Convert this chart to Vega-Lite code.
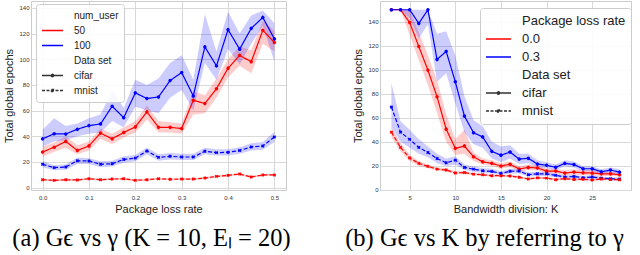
{
  "$schema": "https://vega.github.io/schema/vega-lite/v6.json",
  "padding": {"left": 3, "top": 0, "right": 0, "bottom": 0},
  "background": "white",
  "bounds": "flush",
  "spacing": 94,
  "resolve": {"scale": {"color": "independent", "x": "independent", "y": "independent", "strokeDash": "independent", "shape": "independent"}, "legend": {"color": "independent"}},
  "config": {
    "font": "Liberation Sans",
    "view": {"stroke": "#cccccc", "strokeWidth": 1},
    "axis": {"grid": true, "gridColor": "#d9d9d9", "gridWidth": 1.1, "domain": false, "ticks": false, "labelOverlap": false, "labelFontSize": 6, "labelColor": "#333333", "labelPadding": 3, "titleFontSize": 11, "titleFontWeight": "normal", "titleColor": "#222222", "titleFont": "Liberation Sans", "labelFont": "Liberation Sans"},
    "title": {"font": "Liberation Serif", "fontSize": 24.5, "fontWeight": "normal", "color": "#000000"}
  },
  "datasets": {
    "a": [
      {"x":0,"g":"50","d":"cifar","y":27.8,"lo":24,"hi":32},
      {"x":0.025,"g":"50","d":"cifar","y":31.5,"lo":28,"hi":35},
      {"x":0.05,"g":"50","d":"cifar","y":36,"lo":31,"hi":40},
      {"x":0.075,"g":"50","d":"cifar","y":29,"lo":26,"hi":33},
      {"x":0.1,"g":"50","d":"cifar","y":32.5,"lo":29,"hi":36},
      {"x":0.125,"g":"50","d":"cifar","y":42.5,"lo":38,"hi":46},
      {"x":0.15,"g":"50","d":"cifar","y":38,"lo":34,"hi":42},
      {"x":0.175,"g":"50","d":"cifar","y":43,"lo":39,"hi":47},
      {"x":0.2,"g":"50","d":"cifar","y":47.3,"lo":43,"hi":52},
      {"x":0.225,"g":"50","d":"cifar","y":59,"lo":53,"hi":64},
      {"x":0.25,"g":"50","d":"cifar","y":47,"lo":43,"hi":52},
      {"x":0.275,"g":"50","d":"cifar","y":47,"lo":43,"hi":51},
      {"x":0.3,"g":"50","d":"cifar","y":46,"lo":42,"hi":50},
      {"x":0.325,"g":"50","d":"cifar","y":68,"lo":57,"hi":75},
      {"x":0.35,"g":"50","d":"cifar","y":65.5,"lo":58,"hi":72},
      {"x":0.375,"g":"50","d":"cifar","y":77,"lo":70,"hi":85},
      {"x":0.4,"g":"50","d":"cifar","y":93,"lo":86,"hi":100},
      {"x":0.425,"g":"50","d":"cifar","y":103,"lo":95,"hi":110},
      {"x":0.45,"g":"50","d":"cifar","y":98,"lo":89,"hi":107},
      {"x":0.475,"g":"50","d":"cifar","y":122.5,"lo":112,"hi":130},
      {"x":0.5,"g":"50","d":"cifar","y":113,"lo":106,"hi":122},
      {"x":0,"g":"100","d":"cifar","y":38,"lo":32,"hi":45},
      {"x":0.025,"g":"100","d":"cifar","y":42,"lo":36,"hi":54},
      {"x":0.05,"g":"100","d":"cifar","y":41.8,"lo":37,"hi":48},
      {"x":0.075,"g":"100","d":"cifar","y":45.5,"lo":40,"hi":50},
      {"x":0.1,"g":"100","d":"cifar","y":48.3,"lo":42,"hi":54},
      {"x":0.125,"g":"100","d":"cifar","y":49.6,"lo":43,"hi":57},
      {"x":0.15,"g":"100","d":"cifar","y":63.4,"lo":52,"hi":76},
      {"x":0.175,"g":"100","d":"cifar","y":54.5,"lo":47,"hi":62},
      {"x":0.2,"g":"100","d":"cifar","y":73.8,"lo":63,"hi":84},
      {"x":0.225,"g":"100","d":"cifar","y":69.4,"lo":60,"hi":80},
      {"x":0.25,"g":"100","d":"cifar","y":70.6,"lo":58,"hi":85},
      {"x":0.275,"g":"100","d":"cifar","y":83.4,"lo":70,"hi":97},
      {"x":0.3,"g":"100","d":"cifar","y":89.6,"lo":76,"hi":103},
      {"x":0.325,"g":"100","d":"cifar","y":71.4,"lo":60,"hi":84},
      {"x":0.35,"g":"100","d":"cifar","y":109.6,"lo":97,"hi":135},
      {"x":0.375,"g":"100","d":"cifar","y":94.8,"lo":84,"hi":106},
      {"x":0.4,"g":"100","d":"cifar","y":123,"lo":108,"hi":137},
      {"x":0.425,"g":"100","d":"cifar","y":107.8,"lo":96,"hi":120},
      {"x":0.45,"g":"100","d":"cifar","y":124,"lo":112,"hi":134},
      {"x":0.475,"g":"100","d":"cifar","y":132.5,"lo":126,"hi":138},
      {"x":0.5,"g":"100","d":"cifar","y":115.8,"lo":98,"hi":128},
      {"x":0,"g":"100","d":"mnist","y":18.2,"lo":16,"hi":20.5},
      {"x":0.025,"g":"100","d":"mnist","y":15.6,"lo":13.5,"hi":17.5},
      {"x":0.05,"g":"100","d":"mnist","y":16.1,"lo":14,"hi":18},
      {"x":0.075,"g":"100","d":"mnist","y":21,"lo":18.5,"hi":23.5},
      {"x":0.1,"g":"100","d":"mnist","y":20.8,"lo":18.5,"hi":23},
      {"x":0.125,"g":"100","d":"mnist","y":18.2,"lo":16,"hi":20.5},
      {"x":0.15,"g":"100","d":"mnist","y":18.7,"lo":16.5,"hi":21},
      {"x":0.175,"g":"100","d":"mnist","y":22,"lo":19.5,"hi":24.5},
      {"x":0.2,"g":"100","d":"mnist","y":23,"lo":20.5,"hi":25.5},
      {"x":0.225,"g":"100","d":"mnist","y":28.6,"lo":26,"hi":31},
      {"x":0.25,"g":"100","d":"mnist","y":23.6,"lo":21,"hi":26},
      {"x":0.275,"g":"100","d":"mnist","y":24.4,"lo":22,"hi":27},
      {"x":0.3,"g":"100","d":"mnist","y":23.9,"lo":21.5,"hi":26.5},
      {"x":0.325,"g":"100","d":"mnist","y":23.9,"lo":21.5,"hi":26.5},
      {"x":0.35,"g":"100","d":"mnist","y":28.3,"lo":26,"hi":31},
      {"x":0.375,"g":"100","d":"mnist","y":27.3,"lo":25,"hi":30},
      {"x":0.4,"g":"100","d":"mnist","y":27.5,"lo":25,"hi":30},
      {"x":0.425,"g":"100","d":"mnist","y":29,"lo":26.5,"hi":31.5},
      {"x":0.45,"g":"100","d":"mnist","y":31.7,"lo":29,"hi":34.5},
      {"x":0.475,"g":"100","d":"mnist","y":32.5,"lo":29.5,"hi":35.5},
      {"x":0.5,"g":"100","d":"mnist","y":39.5,"lo":35.5,"hi":43.5},
      {"x":0,"g":"50","d":"mnist","y":6.2,"lo":5.4,"hi":7},
      {"x":0.025,"g":"50","d":"mnist","y":5.7,"lo":4.9,"hi":6.5},
      {"x":0.05,"g":"50","d":"mnist","y":6.2,"lo":5.4,"hi":7},
      {"x":0.075,"g":"50","d":"mnist","y":6,"lo":5.2,"hi":6.8},
      {"x":0.1,"g":"50","d":"mnist","y":7,"lo":6.2,"hi":7.8},
      {"x":0.125,"g":"50","d":"mnist","y":6.2,"lo":5.4,"hi":7},
      {"x":0.15,"g":"50","d":"mnist","y":6.7,"lo":5.9,"hi":7.5},
      {"x":0.175,"g":"50","d":"mnist","y":7,"lo":6.2,"hi":7.8},
      {"x":0.2,"g":"50","d":"mnist","y":5.7,"lo":4.9,"hi":6.5},
      {"x":0.225,"g":"50","d":"mnist","y":6.2,"lo":5.4,"hi":7},
      {"x":0.25,"g":"50","d":"mnist","y":7,"lo":6.2,"hi":7.8},
      {"x":0.275,"g":"50","d":"mnist","y":6.5,"lo":5.7,"hi":7.3},
      {"x":0.3,"g":"50","d":"mnist","y":6.7,"lo":5.9,"hi":7.5},
      {"x":0.325,"g":"50","d":"mnist","y":6.7,"lo":5.9,"hi":7.5},
      {"x":0.35,"g":"50","d":"mnist","y":7.5,"lo":6.7,"hi":8.3},
      {"x":0.375,"g":"50","d":"mnist","y":8.8,"lo":8,"hi":9.6},
      {"x":0.4,"g":"50","d":"mnist","y":9.6,"lo":8.8,"hi":10.4},
      {"x":0.425,"g":"50","d":"mnist","y":10.6,"lo":9.8,"hi":11.4},
      {"x":0.45,"g":"50","d":"mnist","y":8.3,"lo":7.5,"hi":9.1},
      {"x":0.475,"g":"50","d":"mnist","y":9.9,"lo":9.1,"hi":10.7},
      {"x":0.5,"g":"50","d":"mnist","y":9.9,"lo":9.1,"hi":10.7}
    ],
    "b": [
      {"x":3,"g":"0.0","d":"cifar","y":150,"lo":150,"hi":150},
      {"x":4,"g":"0.0","d":"cifar","y":150,"lo":150,"hi":150},
      {"x":5,"g":"0.0","d":"cifar","y":139.4,"lo":129,"hi":150},
      {"x":6,"g":"0.0","d":"cifar","y":119.4,"lo":108,"hi":131},
      {"x":7,"g":"0.0","d":"cifar","y":99.7,"lo":87,"hi":112},
      {"x":8,"g":"0.0","d":"cifar","y":77.5,"lo":64,"hi":91},
      {"x":9,"g":"0.0","d":"cifar","y":50.5,"lo":40,"hi":63},
      {"x":10,"g":"0.0","d":"cifar","y":34.5,"lo":29,"hi":42},
      {"x":11,"g":"0.0","d":"cifar","y":36.5,"lo":30,"hi":50},
      {"x":12,"g":"0.0","d":"cifar","y":27.5,"lo":24,"hi":31},
      {"x":13,"g":"0.0","d":"cifar","y":23.3,"lo":21,"hi":26},
      {"x":14,"g":"0.0","d":"cifar","y":22,"lo":20,"hi":24.5},
      {"x":15,"g":"0.0","d":"cifar","y":19.8,"lo":17.5,"hi":22},
      {"x":16,"g":"0.0","d":"cifar","y":21.2,"lo":19,"hi":23.5},
      {"x":17,"g":"0.0","d":"cifar","y":17.3,"lo":15.5,"hi":19.5},
      {"x":18,"g":"0.0","d":"cifar","y":18.6,"lo":16.5,"hi":21},
      {"x":19,"g":"0.0","d":"cifar","y":18.2,"lo":16,"hi":20.5},
      {"x":20,"g":"0.0","d":"cifar","y":15.6,"lo":13.5,"hi":17.5},
      {"x":21,"g":"0.0","d":"cifar","y":15.6,"lo":13.5,"hi":17.5},
      {"x":22,"g":"0.0","d":"cifar","y":13.9,"lo":12,"hi":16},
      {"x":23,"g":"0.0","d":"cifar","y":14.7,"lo":12.5,"hi":17},
      {"x":24,"g":"0.0","d":"cifar","y":14.2,"lo":12,"hi":16.5},
      {"x":25,"g":"0.0","d":"cifar","y":13.9,"lo":12,"hi":16},
      {"x":26,"g":"0.0","d":"cifar","y":13.3,"lo":11.5,"hi":15},
      {"x":27,"g":"0.0","d":"cifar","y":13.3,"lo":11.5,"hi":15},
      {"x":28,"g":"0.0","d":"cifar","y":12.5,"lo":11,"hi":14.5},
      {"x":3,"g":"0.3","d":"cifar","y":150,"lo":150,"hi":150},
      {"x":4,"g":"0.3","d":"cifar","y":150,"lo":150,"hi":150},
      {"x":5,"g":"0.3","d":"cifar","y":150,"lo":143,"hi":150},
      {"x":6,"g":"0.3","d":"cifar","y":138.6,"lo":126,"hi":150},
      {"x":7,"g":"0.3","d":"cifar","y":150,"lo":138,"hi":150},
      {"x":8,"g":"0.3","d":"cifar","y":108.6,"lo":90,"hi":130},
      {"x":9,"g":"0.3","d":"cifar","y":115.3,"lo":97,"hi":132},
      {"x":10,"g":"0.3","d":"cifar","y":90,"lo":72,"hi":112},
      {"x":11,"g":"0.3","d":"cifar","y":61.4,"lo":48,"hi":78},
      {"x":12,"g":"0.3","d":"cifar","y":47.5,"lo":38,"hi":58},
      {"x":13,"g":"0.3","d":"cifar","y":44,"lo":35,"hi":53},
      {"x":14,"g":"0.3","d":"cifar","y":32,"lo":26,"hi":40},
      {"x":15,"g":"0.3","d":"cifar","y":28.8,"lo":23,"hi":36},
      {"x":16,"g":"0.3","d":"cifar","y":31.4,"lo":26,"hi":37},
      {"x":17,"g":"0.3","d":"cifar","y":25.6,"lo":21.5,"hi":30},
      {"x":18,"g":"0.3","d":"cifar","y":26.2,"lo":22,"hi":30},
      {"x":19,"g":"0.3","d":"cifar","y":21.4,"lo":19,"hi":24.5},
      {"x":20,"g":"0.3","d":"cifar","y":20.4,"lo":18,"hi":23},
      {"x":21,"g":"0.3","d":"cifar","y":18.7,"lo":16.5,"hi":21},
      {"x":22,"g":"0.3","d":"cifar","y":22,"lo":19.5,"hi":24.5},
      {"x":23,"g":"0.3","d":"cifar","y":21,"lo":18.5,"hi":23.5},
      {"x":24,"g":"0.3","d":"cifar","y":17.5,"lo":15.5,"hi":19.5},
      {"x":25,"g":"0.3","d":"cifar","y":17.5,"lo":15.5,"hi":19.5},
      {"x":26,"g":"0.3","d":"cifar","y":15,"lo":13,"hi":17},
      {"x":27,"g":"0.3","d":"cifar","y":16.4,"lo":14,"hi":18.5},
      {"x":28,"g":"0.3","d":"cifar","y":14.7,"lo":12.5,"hi":17},
      {"x":3,"g":"0.3","d":"mnist","y":69,"lo":52,"hi":89},
      {"x":4,"g":"0.3","d":"mnist","y":48,"lo":40,"hi":57},
      {"x":5,"g":"0.3","d":"mnist","y":42,"lo":35,"hi":50},
      {"x":6,"g":"0.3","d":"mnist","y":35.3,"lo":30,"hi":42},
      {"x":7,"g":"0.3","d":"mnist","y":31,"lo":27,"hi":36},
      {"x":8,"g":"0.3","d":"mnist","y":26,"lo":22,"hi":30},
      {"x":9,"g":"0.3","d":"mnist","y":22.5,"lo":19.5,"hi":26},
      {"x":10,"g":"0.3","d":"mnist","y":24.7,"lo":21,"hi":28},
      {"x":11,"g":"0.3","d":"mnist","y":18.6,"lo":16.5,"hi":21},
      {"x":12,"g":"0.3","d":"mnist","y":17.2,"lo":15,"hi":19.5},
      {"x":13,"g":"0.3","d":"mnist","y":15.8,"lo":14,"hi":18},
      {"x":14,"g":"0.3","d":"mnist","y":15.3,"lo":13.5,"hi":17.5},
      {"x":15,"g":"0.3","d":"mnist","y":13.6,"lo":12,"hi":15.5},
      {"x":16,"g":"0.3","d":"mnist","y":15.4,"lo":13.5,"hi":17.5},
      {"x":17,"g":"0.3","d":"mnist","y":15.6,"lo":13.5,"hi":17.5},
      {"x":18,"g":"0.3","d":"mnist","y":12.5,"lo":11,"hi":14.5},
      {"x":19,"g":"0.3","d":"mnist","y":13.3,"lo":11.5,"hi":15},
      {"x":20,"g":"0.3","d":"mnist","y":13.3,"lo":11.5,"hi":15},
      {"x":21,"g":"0.3","d":"mnist","y":12,"lo":10.5,"hi":13.5},
      {"x":22,"g":"0.3","d":"mnist","y":10.6,"lo":9,"hi":12},
      {"x":23,"g":"0.3","d":"mnist","y":11.1,"lo":9.5,"hi":12.5},
      {"x":24,"g":"0.3","d":"mnist","y":10,"lo":8.5,"hi":11.5},
      {"x":25,"g":"0.3","d":"mnist","y":10.6,"lo":9,"hi":12},
      {"x":26,"g":"0.3","d":"mnist","y":9.7,"lo":8.5,"hi":11},
      {"x":27,"g":"0.3","d":"mnist","y":9.2,"lo":8,"hi":10.5},
      {"x":28,"g":"0.3","d":"mnist","y":8.9,"lo":7.5,"hi":10},
      {"x":3,"g":"0.0","d":"mnist","y":48,"lo":44,"hi":52},
      {"x":4,"g":"0.0","d":"mnist","y":35.3,"lo":32,"hi":39},
      {"x":5,"g":"0.0","d":"mnist","y":26.5,"lo":24,"hi":29},
      {"x":6,"g":"0.0","d":"mnist","y":22,"lo":20,"hi":24},
      {"x":7,"g":"0.0","d":"mnist","y":19.5,"lo":18,"hi":21},
      {"x":8,"g":"0.0","d":"mnist","y":17.2,"lo":16,"hi":18.5},
      {"x":9,"g":"0.0","d":"mnist","y":16.5,"lo":15,"hi":18},
      {"x":10,"g":"0.0","d":"mnist","y":14,"lo":13,"hi":15.5},
      {"x":11,"g":"0.0","d":"mnist","y":14.4,"lo":13,"hi":15.5},
      {"x":12,"g":"0.0","d":"mnist","y":13,"lo":12,"hi":14},
      {"x":13,"g":"0.0","d":"mnist","y":12.5,"lo":11.5,"hi":13.5},
      {"x":14,"g":"0.0","d":"mnist","y":11.7,"lo":10.8,"hi":12.6},
      {"x":15,"g":"0.0","d":"mnist","y":11.7,"lo":10.8,"hi":12.6},
      {"x":16,"g":"0.0","d":"mnist","y":11.5,"lo":10.5,"hi":12.5},
      {"x":17,"g":"0.0","d":"mnist","y":10.4,"lo":9.5,"hi":11.5},
      {"x":18,"g":"0.0","d":"mnist","y":9,"lo":8,"hi":10},
      {"x":19,"g":"0.0","d":"mnist","y":9.9,"lo":9,"hi":11},
      {"x":20,"g":"0.0","d":"mnist","y":9.7,"lo":8.8,"hi":10.6},
      {"x":21,"g":"0.0","d":"mnist","y":8.4,"lo":7.5,"hi":9.3},
      {"x":22,"g":"0.0","d":"mnist","y":9.2,"lo":8.3,"hi":10.1},
      {"x":23,"g":"0.0","d":"mnist","y":8.6,"lo":7.7,"hi":9.5},
      {"x":24,"g":"0.0","d":"mnist","y":8.7,"lo":7.8,"hi":9.6},
      {"x":25,"g":"0.0","d":"mnist","y":8.1,"lo":7.2,"hi":9},
      {"x":26,"g":"0.0","d":"mnist","y":9,"lo":8,"hi":10},
      {"x":27,"g":"0.0","d":"mnist","y":8.6,"lo":7.7,"hi":9.5},
      {"x":28,"g":"0.0","d":"mnist","y":8.4,"lo":7.5,"hi":9.3}
    ]
  },
  "hconcat": [
    {
      "width": 255,
      "height": 189,
      "data": {"name": "a"},
      "title": {"text": "(a) Gϵ vs γ (K = 10, Eₗ = 20)", "orient": "bottom", "anchor": "middle", "frame": "group", "dx": -7, "offset": 13},
      "encoding": {
        "x": {"field": "x", "type": "quantitative", "scale": {"domain": [-0.025, 0.525], "nice": false, "zero": false}, "axis": {"values": [0, 0.1, 0.2, 0.3, 0.4, 0.5], "format": ".1f", "title": "Package loss rate", "labelPadding": 4, "titlePadding": 3}},
        "color": {"field": "g", "type": "nominal",
          "scale": {"domain": ["num_user", "50", "100", "Data set", "cifar", "mnist"], "range": ["transparent", "#ff0000", "#0000ff", "transparent", "#333333", "#333333"]},
          "legend": {"title": null, "orient": "none", "legendX": 5, "legendY": 3, "fillColor": "rgba(255,255,255,0.85)", "strokeColor": "#cccccc", "cornerRadius": 3, "padding": 5, "labelFontSize": 10, "labelColor": "#222222", "symbolSize": 441, "symbolStrokeWidth": 1.3, "clipHeight": 13, "rowPadding": 2, "labelOffset": 10, "symbolType": "stroke",
            "encode": {"symbols": {"update": {
              "shape": {"signal": "datum.value === 'cifar' ? 'M-1,0H1M0.12,0A0.12,0.12,0,1,1,-0.12,0A0.12,0.12,0,1,1,0.12,0' : datum.value === 'mnist' ? 'M-1,0H1M-0.1,-0.1H0.1V0.1H-0.1Z' : 'stroke'"},
              "fill": {"signal": "datum.value === 'cifar' || datum.value === 'mnist' ? '#333333' : 'transparent'"},
              "strokeDash": {"signal": "datum.value === 'mnist' ? [3, 1.5] : [1, 0]"}
            }}}}
        }
      },
      "layer": [
        {"mark": {"type": "area", "opacity": 0.2}, "encoding": {"y": {"field": "lo", "type": "quantitative", "scale": {"domain": [-1.8, 145.3], "nice": false, "zero": false}, "axis": {"values": [0, 20, 40, 60, 80, 100, 120, 140], "title": "Total global epochs", "labelPadding": 2, "titlePadding": 4}}, "y2": {"field": "hi"}, "detail": {"field": "d"}}},
        {"mark": {"type": "line", "strokeWidth": 1.2}, "encoding": {"y": {"field": "y", "type": "quantitative", "axis": {"values": [0, 20, 40, 60, 80, 100, 120, 140], "title": "Total global epochs", "labelPadding": 2, "titlePadding": 4}}, "strokeDash": {"field": "d", "type": "nominal", "scale": {"domain": ["cifar", "mnist"], "range": [[1, 0], [4, 2]]}, "legend": null}}},
        {"mark": {"type": "point", "filled": true, "size": 12, "opacity": 1, "angle": 45}, "encoding": {"y": {"field": "y", "type": "quantitative", "axis": {"values": [0, 20, 40, 60, 80, 100, 120, 140], "title": "Total global epochs", "labelPadding": 2, "titlePadding": 4}}, "shape": {"field": "d", "type": "nominal", "scale": {"domain": ["cifar", "mnist"], "range": ["circle", "cross"]}, "legend": null}}}
      ]
    },
    {
      "width": 251,
      "height": 189,
      "data": {"name": "b"},
      "title": {"text": "(b) Gϵ vs K by referring to γ", "orient": "bottom", "anchor": "middle", "frame": "group", "dx": -21, "offset": 13},
      "encoding": {
        "x": {"field": "x", "type": "quantitative", "scale": {"domain": [1.75, 29.25], "nice": false, "zero": false}, "axis": {"values": [5, 10, 15, 20, 25], "title": "Bandwidth division: K", "labelPadding": 4, "titlePadding": 3}},
        "color": {"field": "g", "type": "nominal",
          "scale": {"domain": ["Package loss rate", "0.0", "0.3", "Data set", "cifar", "mnist"], "range": ["transparent", "#ff0000", "#0000ff", "transparent", "#333333", "#333333"]},
          "legend": {"title": null, "orient": "none", "legendX": 100, "legendY": 7, "fillColor": "rgba(255,255,255,0.85)", "strokeColor": "#cccccc", "cornerRadius": 3, "padding": 5, "labelFontSize": 13, "labelColor": "#222222", "symbolSize": 625, "symbolStrokeWidth": 1.3, "clipHeight": 16, "rowPadding": 2, "labelOffset": 10, "symbolType": "stroke",
            "encode": {"symbols": {"update": {
              "shape": {"signal": "datum.value === 'cifar' ? 'M-1,0H1M0.1,0A0.1,0.1,0,1,1,-0.1,0A0.1,0.1,0,1,1,0.1,0' : datum.value === 'mnist' ? 'M-1,0H1M-0.08,-0.08H0.08V0.08H-0.08Z' : 'stroke'"},
              "fill": {"signal": "datum.value === 'cifar' || datum.value === 'mnist' ? '#333333' : 'transparent'"},
              "strokeDash": {"signal": "datum.value === 'mnist' ? [3, 1.5] : [1, 0]"}
            }}}}
        }
      },
      "layer": [
        {"mark": {"type": "area", "opacity": 0.2}, "encoding": {"y": {"field": "lo", "type": "quantitative", "scale": {"domain": [-0.2, 157.3], "nice": false, "zero": false}, "axis": {"values": [0, 20, 40, 60, 80, 100, 120, 140], "title": "Total global epochs", "labelPadding": 2, "titlePadding": 4}}, "y2": {"field": "hi"}, "detail": {"field": "d"}}},
        {"mark": {"type": "line", "strokeWidth": 1.2}, "encoding": {"y": {"field": "y", "type": "quantitative", "axis": {"values": [0, 20, 40, 60, 80, 100, 120, 140], "title": "Total global epochs", "labelPadding": 2, "titlePadding": 4}}, "strokeDash": {"field": "d", "type": "nominal", "scale": {"domain": ["cifar", "mnist"], "range": [[1, 0], [4, 2]]}, "legend": null}}},
        {"mark": {"type": "point", "filled": true, "size": 12, "opacity": 1, "angle": 45}, "encoding": {"y": {"field": "y", "type": "quantitative", "axis": {"values": [0, 20, 40, 60, 80, 100, 120, 140], "title": "Total global epochs", "labelPadding": 2, "titlePadding": 4}}, "shape": {"field": "d", "type": "nominal", "scale": {"domain": ["cifar", "mnist"], "range": ["circle", "cross"]}, "legend": null}}}
      ]
    }
  ]
}
